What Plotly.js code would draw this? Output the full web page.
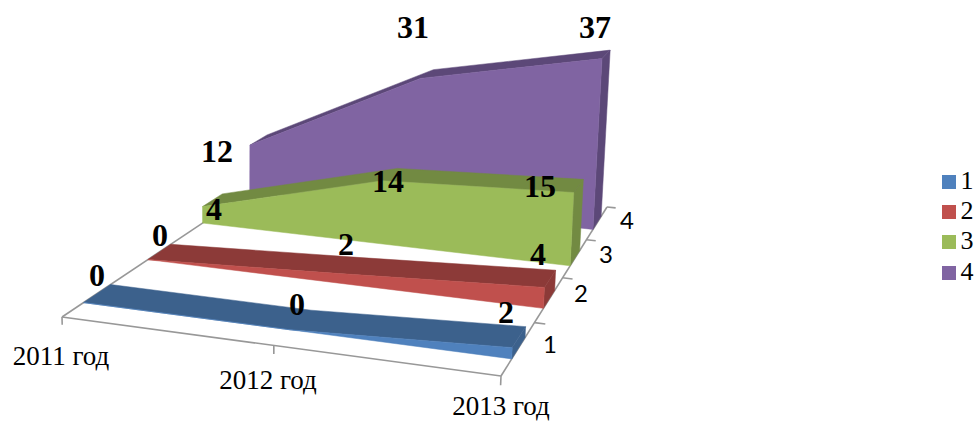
<!DOCTYPE html>
<html>
<head>
<meta charset="utf-8">
<script src="https://cdn.plot.ly/plotly-3.0.1.min.js"></script>
<style>html,body{margin:0;padding:0;background:#fff}#chart{width:975px;height:423px}</style>
</head>
<body>
<div id="chart"></div>
<script>
// Values per year and series
const years = ['2011 год', '2012 год', '2013 год'];
const seriesNames = ['1', '2', '3', '4'];
const series1 = [0, 0, 2];
const series2 = [0, 2, 4];
const series3 = [4, 14, 15];
const series4 = [12, 31, 37];
const allSeries = [series1, series2, series3, series4];

// Face colours
const frontColors = ['#4f81bd', '#c0504d', '#9bbb59', '#8064a2'];
const darkColors = ['#3c618c', '#8c3a38', '#728a42', '#5c4878'];

// Value label centres, in page pixels
const labelSpots = [
  [[97, 278], [297, 307], [506, 315]],
  [[160, 238], [346, 247], [538, 257]],
  [[214, 212], [388, 184], [540, 189]],
  [[217, 154], [413, 30], [595, 30]]
];

// Perspective camera: four floor corners plus a vertical term
const floor = {a: [62, 317], b: [501, 376], c: [607, 207], d: [279, 172]};
const depthCells = seriesNames.length;
const lift = {x: 230, y: 7060, s: -0.00078, lean: [0.93, 0.11]};

function makeCamera() {
  const {a, b, c, d} = floor;
  const dx1 = b[0] - c[0], dx2 = d[0] - c[0], sx = a[0] - b[0] + c[0] - d[0];
  const dy1 = b[1] - c[1], dy2 = d[1] - c[1], sy = a[1] - b[1] + c[1] - d[1];
  const den = dx1 * dy2 - dx2 * dy1;
  const g = (sx * dy2 - dx2 * sy) / den;
  const h = (dx1 * sy - sx * dy1) / den;
  return {
    ux: (1 + g) * b[0] - a[0], vx: (1 + h) * d[0] - a[0],
    uy: (1 + g) * b[1] - a[1], vy: (1 + h) * d[1] - a[1],
    g, h
  };
}
const cam = makeCamera();

// Project (position along years 0..1, depth in series cells, value) to the page
function project(u, depth, value) {
  const v = depth / depthCells;
  const z = value * lift.s * (lift.lean[0] + lift.lean[1] * u);
  const w = 1 + cam.g * u + cam.h * v + z;
  return [
    (floor.a[0] + cam.ux * u + cam.vx * v + z * lift.x) / w,
    (floor.a[1] + cam.uy * u + cam.vy * v + z * lift.y) / w
  ];
}

const traces = [];
function polygon(points, color) {
  traces.push({
    type: 'scatter', mode: 'lines', fill: 'toself', fillcolor: color,
    x: points.map(p => p[0]).concat(points[0][0]),
    y: points.map(p => p[1]).concat(points[0][1]),
    line: {color: color, width: 0.5}, hoverinfo: 'skip', showlegend: false
  });
}
function stroke(from, to) {
  traces.push({
    type: 'scatter', mode: 'lines', x: [from[0], to[0]], y: [from[1], to[1]],
    line: {color: '#989898', width: 1.6}, hoverinfo: 'skip', showlegend: false
  });
}

// Floor edges and tick marks
const lastU = years.length - 1;
stroke(project(0, 0, 0), project(1, 0, 0));
stroke(project(0, 0, 0), project(0, depthCells, 0));
stroke(project(1, 0, 0), project(1, depthCells, 0));
years.forEach((_, i) => stroke(project(i / lastU, 0, 0), project(i / lastU, 0, -1.6)));
seriesNames.forEach((_, i) => stroke(project(1, i + 1, 0), project(1.025, i + 1, 0)));

// Extruded areas, painted from the back row to the front row
const bandNear = 0.3, bandFar = 0.7;
for (let s = allSeries.length - 1; s >= 0; s--) {
  const vals = allSeries[s];
  const near = s + bandNear, far = s + bandFar;
  const us = vals.map((_, i) => i / lastU);
  const frontTop = vals.map((val, i) => project(us[i], near, val));
  const backTop = vals.map((val, i) => project(us[i], far, val));
  polygon([project(1, near, 0), project(1, far, 0), backTop[lastU], frontTop[lastU]], darkColors[s]);
  polygon(frontTop.concat(backTop.slice().reverse()), darkColors[s]);
  polygon([project(0, near, 0), project(1, near, 0)].concat(frontTop.slice().reverse()), frontColors[s]);
}

// Value labels
traces.push({
  type: 'scatter', mode: 'text',
  x: labelSpots.flat().map(p => p[0]), y: labelSpots.flat().map(p => p[1]),
  text: allSeries.flat().map(String), textposition: 'middle center',
  textfont: {family: 'Liberation Serif', size: 32, color: '#000'},
  texttemplate: '<b>%{text}</b>', hoverinfo: 'skip', showlegend: false
});

// Year labels sit below the front edge
const yearSpots = [[61, 358], [268, 382], [501, 408]];
traces.push({
  type: 'scatter', mode: 'text',
  x: yearSpots.map(p => p[0]), y: yearSpots.map(p => p[1]), text: years,
  textposition: 'middle center',
  textfont: {family: 'Liberation Serif', size: 27, color: '#000'},
  hoverinfo: 'skip', showlegend: false
});

// Series labels beside the right edge
const depthSpots = [[550, 347], [581, 296], [606, 257], [627, 223]];
traces.push({
  type: 'scatter', mode: 'text',
  x: depthSpots.map(p => p[0]), y: depthSpots.map(p => p[1]), text: seriesNames,
  textposition: 'middle center',
  textfont: {family: 'Lato', size: 24, color: '#000'},
  hoverinfo: 'skip', showlegend: false
});

// Key at the right
const keyX = 949, keyTextX = 967, keyY = [182, 212, 242, 273];
traces.push({
  type: 'scatter', mode: 'markers',
  x: keyY.map(() => keyX), y: keyY,
  marker: {symbol: 'square', size: 14, color: frontColors},
  hoverinfo: 'skip', showlegend: false
});
traces.push({
  type: 'scatter', mode: 'text',
  x: keyY.map(() => keyTextX), y: keyY, text: seriesNames,
  textposition: 'middle center',
  textfont: {family: 'Liberation Serif', size: 26, color: '#000'},
  hoverinfo: 'skip', showlegend: false
});

Plotly.newPlot('chart', traces, {
  width: 975, height: 423, showlegend: false,
  margin: {l: 0, r: 0, t: 0, b: 0},
  paper_bgcolor: '#fff', plot_bgcolor: '#fff',
  xaxis: {range: [0, 975], visible: false, fixedrange: true},
  yaxis: {range: [423, 0], visible: false, fixedrange: true}
}, {displayModeBar: false, staticPlot: true});
</script>
</body>
</html>
